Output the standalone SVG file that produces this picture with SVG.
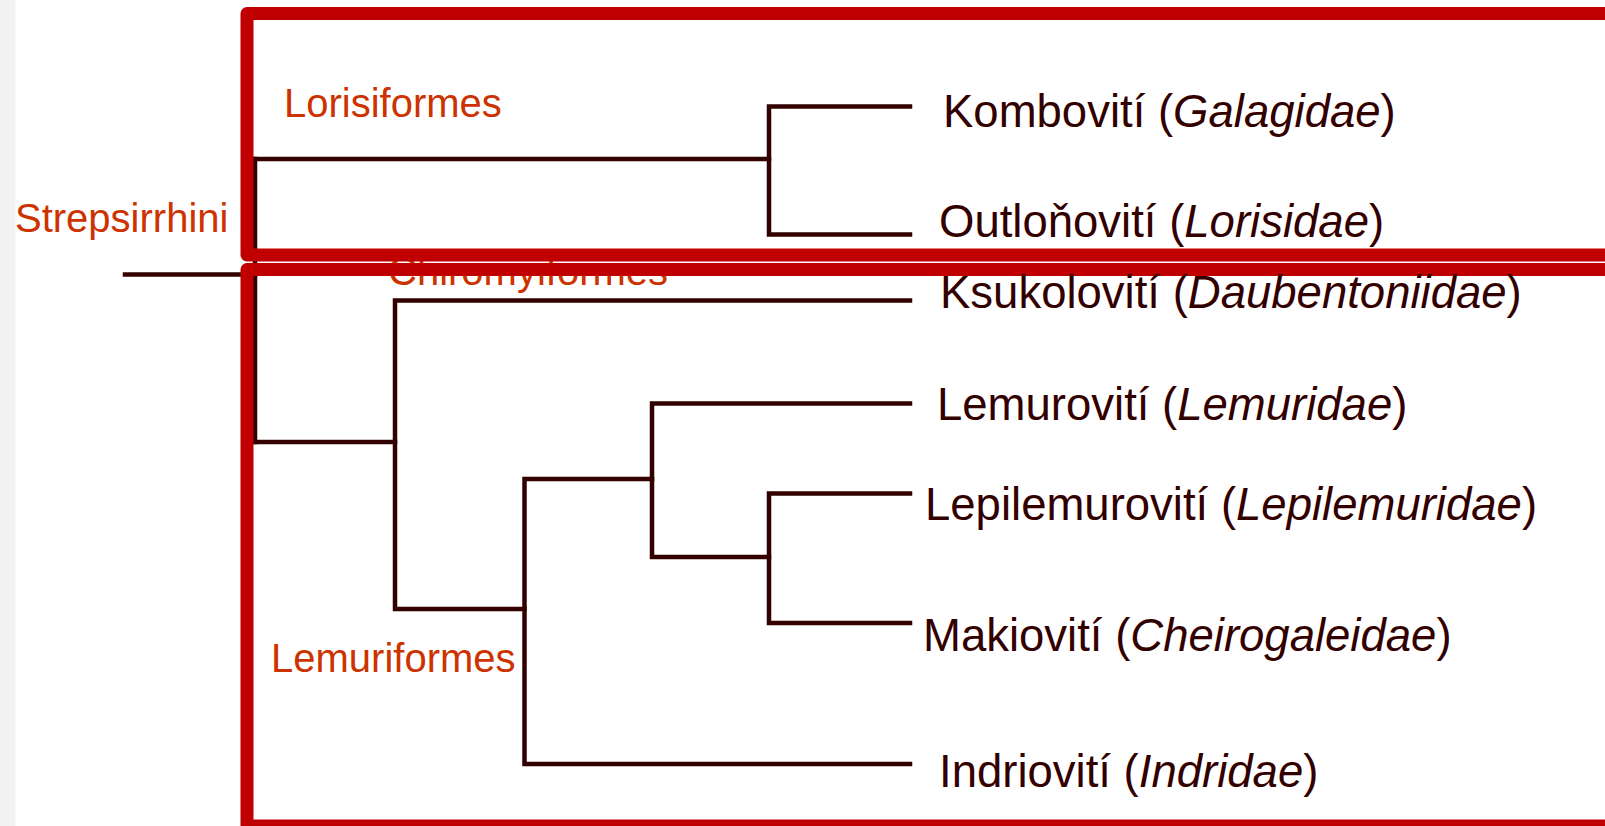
<svg xmlns="http://www.w3.org/2000/svg" width="1605" height="826" viewBox="0 0 1605 826">
<style>
.bg{fill:#ffffff}
.strip{fill:#f2f2f2}
.tree{fill:none;stroke:#330000;stroke-width:4.5;stroke-linejoin:miter;stroke-linecap:square}
.box{fill:none;stroke:#c00000;stroke-width:13;stroke-linejoin:round}
.clade{font-family:"Liberation Sans",Arial,sans-serif;font-size:40px;fill:#cc3300}
.taxon{font-family:"Liberation Sans",Arial,sans-serif;font-size:45.5px;fill:#330000}
.it{font-style:italic}
</style>
<rect class="bg" x="0" y="0" width="1605" height="826"/>
<rect class="strip" x="0" y="0" width="15.5" height="826"/>

<g id="connectors">
<path class="tree" d="M125 274.5 H255"/>
<path class="tree" d="M255 159 V442"/>
<path class="tree" d="M255 159 H769"/>
<path class="tree" d="M910 106.5 H769 V234.5 H910"/>
<path class="tree" d="M255 442 H395"/>
<path class="tree" d="M910 300.5 H395 V609 H524.5"/>
<path class="tree" d="M652 479 H524.5 V764 H910"/>
<path class="tree" d="M910 403.5 H652 V557 H769"/>
<path class="tree" d="M910 493.5 H769 V623 H910"/>
</g>

<g id="label-chiromyiformes"><text class="clade" x="388" y="285">Chiromyiformes</text></g>

<g id="box-lorisiformes"><rect class="box" x="247" y="13.5" width="1450" height="241.5"/></g>
<g id="box-lemuriformes"><rect class="box" x="247" y="269.5" width="1450" height="556.5"/></g>

<g id="label-strepsirrhini"><text class="clade" x="15" y="232">Strepsirrhini</text></g>
<g id="label-lorisiformes"><text class="clade" x="284" y="117">Lorisiformes</text></g>
<g id="label-lemuriformes"><text class="clade" x="271" y="672">Lemuriformes</text></g>

<g id="taxon-galagidae"><text class="taxon" x="943" y="127">Kombovití (<tspan class="it">Galagidae</tspan>)</text></g>
<g id="taxon-lorisidae"><text class="taxon" x="939" y="237">Outloňovití (<tspan class="it">Lorisidae</tspan>)</text></g>
<g id="taxon-daubentoniidae"><text class="taxon" x="940" y="308">Ksukolovití (<tspan class="it">Daubentoniidae</tspan>)</text></g>
<g id="taxon-lemuridae"><text class="taxon" x="937" y="420">Lemurovití (<tspan class="it">Lemuridae</tspan>)</text></g>
<g id="taxon-lepilemuridae"><text class="taxon" x="925" y="520">Lepilemurovití (<tspan class="it">Lepilemuridae</tspan>)</text></g>
<g id="taxon-cheirogaleidae"><text class="taxon" x="923" y="651">Makiovití (<tspan class="it">Cheirogaleidae</tspan>)</text></g>
<g id="taxon-indridae"><text class="taxon" x="939" y="787">Indriovití (<tspan class="it">Indridae</tspan>)</text></g>
</svg>
